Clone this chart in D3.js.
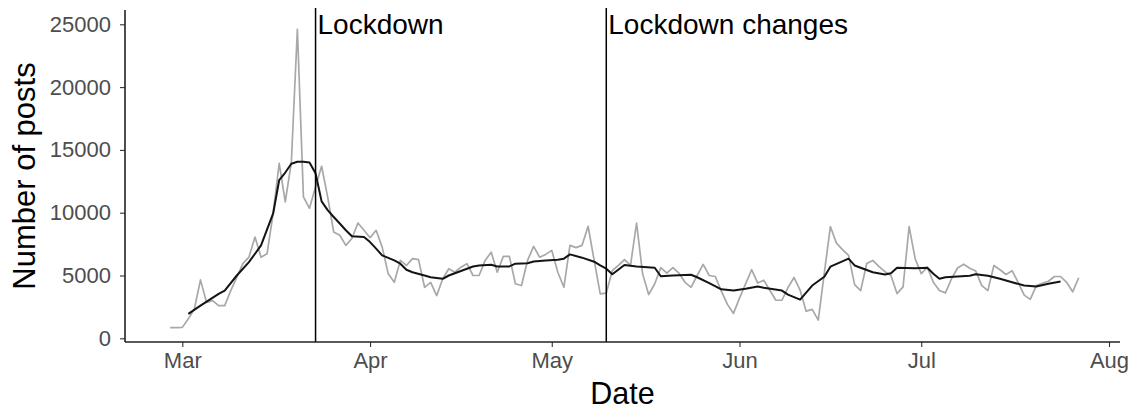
<!DOCTYPE html>
<html>
<head>
<meta charset="utf-8">
<script src="https://cdn.jsdelivr.net/npm/d3@7"></script>
<style>
  html, body { margin: 0; padding: 0; background: #fff; }
  svg { display: block; font-family: "Liberation Sans", Arial, sans-serif; }
</style>
</head>
<body>
<svg id="chart" width="1130" height="409"></svg>
<script>
// Daily post counts, one value per day starting on firstDay
const firstDay = "2020-02-28";
const dailyPosts = [
  850, 850,
  870, 1550, 2350, 4650, 2860, 3000, 2600, 2600, 3800, 4860,
  5950, 6460, 8060, 6460, 6740, 9940, 13930, 10860, 14000, 24600,
  11260, 10350, 12060, 13700, 11260, 8460, 8200, 7400, 7950, 9180, 8600,
  8010, 8600, 7260, 5130, 4460, 6200, 5800, 6340, 6260, 4060,
  4460, 3400, 4740, 5540, 5260, 5660, 5940, 5000, 5000, 6200,
  6860, 5260, 6520, 6520, 4340, 4200, 6200, 7320, 6460, 6680,
  7000, 5260, 4060, 7400, 7220, 7400, 8920, 6200, 3540, 3600,
  5400, 5800, 6260, 5800, 9180, 5130, 3480, 4340, 5620, 5180,
  5620, 5180, 4460, 4060, 5000, 5880, 5000, 4920, 3760, 2700, 1980,
  3200, 4330, 5460, 4400, 4630, 3830, 3030, 3030, 4040, 4840,
  3830, 2160, 2300, 1450, 5200, 8900, 7580, 7060, 6600, 4270,
  3800, 5960, 6200, 5730, 5300, 5000, 3560, 4090, 8890, 6330,
  5150, 5660, 4460, 3800, 3620, 4740, 5600, 5900, 5580, 5350,
  4200, 3800, 5800, 5460, 5080, 5380, 4460, 3440, 3100, 4200,
  4380, 4540, 4920, 4920, 4460, 3700, 4820
];

// Weekly moving-average trend line
const trendDates = [
  "2020-03-02","2020-03-04","2020-03-07","2020-03-08","2020-03-10","2020-03-12",
  "2020-03-14","2020-03-16","2020-03-17","2020-03-18","2020-03-19","2020-03-20",
  "2020-03-21","2020-03-22","2020-03-23","2020-03-24","2020-03-25","2020-03-26",
  "2020-03-27","2020-03-28","2020-03-29","2020-03-31","2020-04-01","2020-04-02",
  "2020-04-03","2020-04-05","2020-04-06","2020-04-07","2020-04-08","2020-04-10",
  "2020-04-11","2020-04-13","2020-04-14","2020-04-15","2020-04-17","2020-04-18",
  "2020-04-19","2020-04-21","2020-04-22","2020-04-24","2020-04-25","2020-04-27",
  "2020-04-28","2020-04-30","2020-05-02","2020-05-03","2020-05-04","2020-05-06",
  "2020-05-08","2020-05-09","2020-05-10","2020-05-11","2020-05-13","2020-05-15",
  "2020-05-18","2020-05-19","2020-05-21","2020-05-24","2020-05-25","2020-05-27",
  "2020-05-29","2020-05-31","2020-06-02","2020-06-04","2020-06-05","2020-06-08",
  "2020-06-09","2020-06-11","2020-06-13","2020-06-15","2020-06-16","2020-06-19",
  "2020-06-20","2020-06-21","2020-06-23","2020-06-25","2020-06-26","2020-06-27",
  "2020-06-30","2020-07-02","2020-07-03","2020-07-04","2020-07-05","2020-07-07",
  "2020-07-09","2020-07-10","2020-07-12","2020-07-14","2020-07-16","2020-07-18",
  "2020-07-20","2020-07-22","2020-07-24"
];
const trendValues = [
  1940, 2600, 3540, 3800, 5000, 6060,
  7400, 9940, 12600, 13200, 13900, 14060,
  14060, 14000, 13140, 10900, 10200, 9660,
  9140, 8600, 8120, 8060, 7660, 7140,
  6600, 6200, 5940, 5460, 5260, 5000,
  4860, 4740, 5000, 5180, 5540, 5720,
  5800, 5860, 5720, 5720, 5940, 5980,
  6120, 6200, 6260, 6340, 6680, 6420,
  6100, 5800, 5540, 5100, 5840, 5720,
  5620, 4940, 5000, 5060, 4860, 4400,
  3900, 3800, 3940, 4120, 4020, 3800,
  3480, 3080, 4200, 4900, 5700, 6340,
  5800, 5620, 5260, 5080, 5180, 5620,
  5580, 5620, 5140, 4740, 4860, 4920,
  4980, 5100, 4980, 4740, 4460, 4200,
  4120, 4340, 4520
];

// Policy events marked with vertical rules
const eventDates = ["2020-03-23", "2020-05-10"];
const eventLabels = ["Lockdown", "Lockdown changes"];

// Axis ticks
const monthTicks = ["2020-03-01","2020-04-01","2020-05-01","2020-06-01","2020-07-01","2020-08-01"];
const monthLabels = ["Mar", "Apr", "May", "Jun", "Jul", "Aug"];
const yTicks = [0, 5000, 10000, 15000, 20000, 25000];

const parse = d3.timeParse("%Y-%m-%d");
const start = parse(firstDay);
const daily = dailyPosts.map((v, i) => ({ date: d3.timeDay.offset(start, i), value: v }));
const trend = trendDates.map((d, i) => ({ date: parse(d), value: trendValues[i] }));

const svg = d3.select("#chart");

const panel = { left: 125, right: 1120, top: 10, bottom: 342 };

const x = d3.scaleTime()
  .domain([parse("2020-03-01"), parse("2020-08-01")])
  .range([182.3, 1109]);
const y = d3.scaleLinear()
  .domain([0, 25000])
  .range([338.3, 24.3]);

// Daily counts (grey)
const line = d3.line().x(d => x(d.date)).y(d => y(d.value));
svg.append("path")
  .datum(daily)
  .attr("fill", "none")
  .attr("stroke", "#a8a8a8")
  .attr("stroke-width", 1.7)
  .attr("stroke-linejoin", "round")
  .attr("d", line);

// Trend (black)
svg.append("path")
  .datum(trend)
  .attr("fill", "none")
  .attr("stroke", "#141414")
  .attr("stroke-width", 2)
  .attr("stroke-linejoin", "round")
  .attr("d", line);

// Event rules and labels
eventDates.forEach((d, i) => {
  const ex = x(parse(d));
  svg.append("line")
    .attr("x1", ex).attr("x2", ex)
    .attr("y1", 8).attr("y2", panel.bottom)
    .attr("stroke", "#000")
    .attr("stroke-width", 1.5);
  svg.append("text")
    .attr("x", ex + 2)
    .attr("y", 34)
    .attr("font-size", 28)
    .attr("fill", "#000")
    .text(eventLabels[i]);
});

// Axes
const xAxis = d3.axisBottom(x)
  .tickValues(monthTicks.map(parse))
  .tickFormat((d, i) => monthLabels[i])
  .tickSize(5)
  .tickSizeOuter(0)
  .tickPadding(5);
const gx = svg.append("g")
  .attr("transform", `translate(0,${panel.bottom})`)
  .call(xAxis);
gx.select(".domain").remove();
gx.selectAll(".tick line").attr("stroke", "#333").attr("stroke-width", 1.1);
gx.selectAll(".tick text").attr("font-size", 22).attr("fill", "#4d4d4d")
  .attr("font-family", "'Liberation Sans', Arial, sans-serif");

const yAxis = d3.axisLeft(y)
  .tickValues(yTicks)
  .tickFormat(d3.format("d"))
  .tickSize(5)
  .tickSizeOuter(0)
  .tickPadding(9);
const gy = svg.append("g")
  .attr("transform", `translate(${panel.left},0)`)
  .call(yAxis);
gy.select(".domain").remove();
gy.selectAll(".tick line").attr("stroke", "#333").attr("stroke-width", 1.1);
gy.selectAll(".tick text").attr("font-size", 22).attr("fill", "#4d4d4d")
  .attr("font-family", "'Liberation Sans', Arial, sans-serif");

// Axis lines
svg.append("line")
  .attr("x1", panel.left).attr("x2", panel.right)
  .attr("y1", panel.bottom).attr("y2", panel.bottom)
  .attr("stroke", "#222").attr("stroke-width", 1.6);
svg.append("line")
  .attr("x1", panel.left).attr("x2", panel.left)
  .attr("y1", panel.top).attr("y2", panel.bottom)
  .attr("stroke", "#222").attr("stroke-width", 1.6);

// Axis titles
svg.append("text")
  .attr("x", (panel.left + panel.right) / 2)
  .attr("y", 404)
  .attr("text-anchor", "middle")
  .attr("font-size", 30.5)
  .attr("fill", "#000")
  .text("Date");
svg.append("text")
  .attr("transform", `translate(35,${(panel.top + panel.bottom) / 2}) rotate(-90)`)
  .attr("text-anchor", "middle")
  .attr("font-size", 31)
  .attr("fill", "#000")
  .text("Number of posts");
</script>
</body>
</html>
